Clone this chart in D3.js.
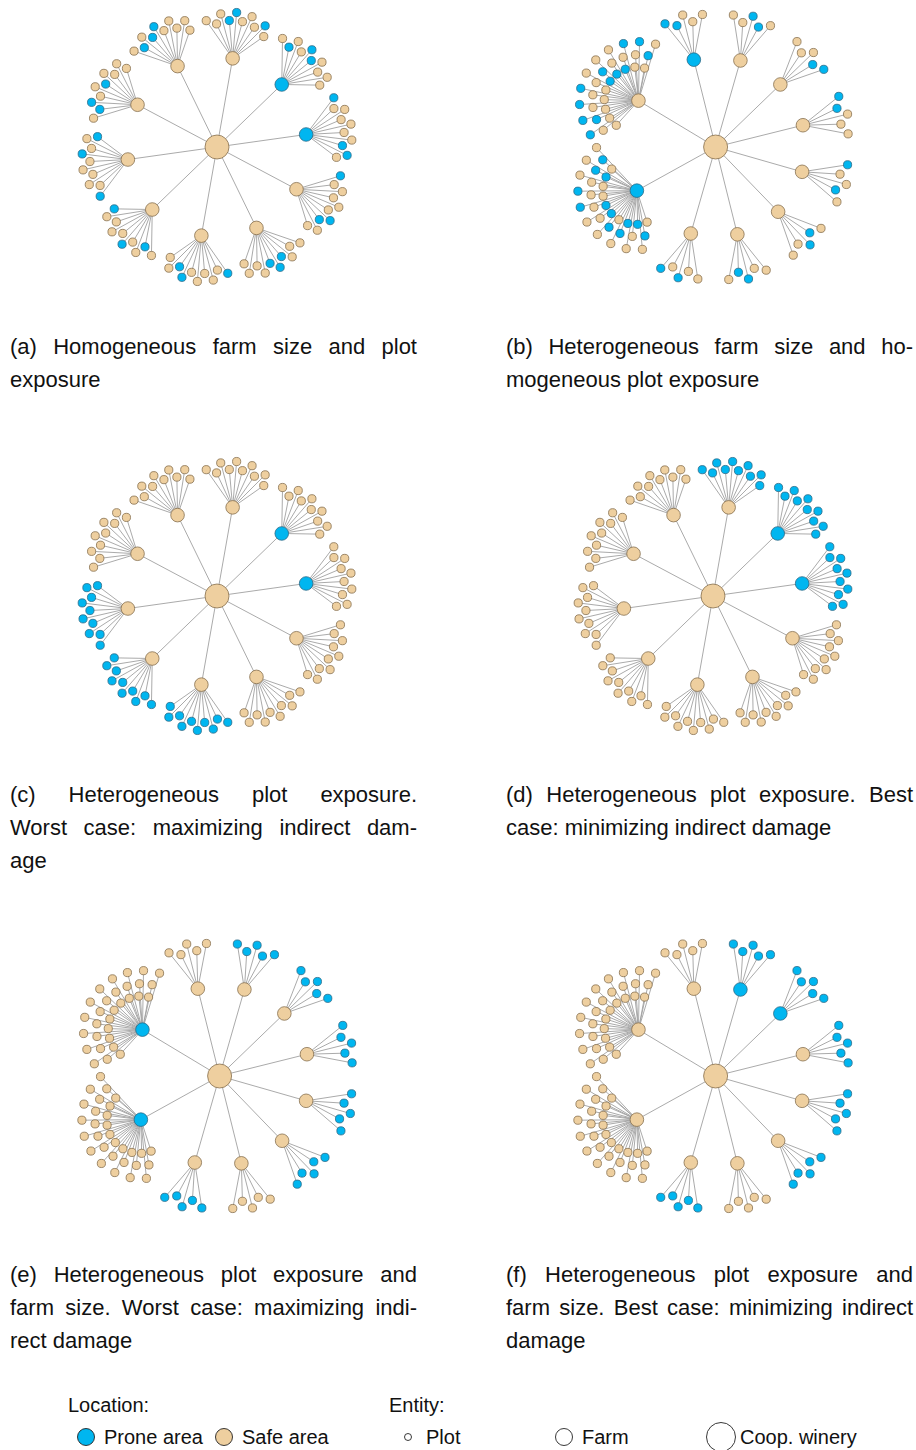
<!DOCTYPE html>
<html><head><meta charset="utf-8">
<script src="https://cdn.jsdelivr.net/npm/d3@7"></script>
<style>
body{margin:0;background:#fff}
svg{display:block}
text{font-family:"Liberation Sans",Arial,Helvetica,sans-serif;fill:#111}
</style>
</head><body>
<svg id="chart" width="916" height="1450"></svg>
<script>
// ---------------- data ----------------
const panelLabels = ["a", "b", "c", "d", "e", "f"];

const captionA = ["(a) Homogeneous farm size and plot", "exposure"];
const captionB = ["(b) Heterogeneous farm size and ho-", "mogeneous plot exposure"];
const captionC = ["(c) Heterogeneous plot exposure.", "Worst case: maximizing indirect dam-", "age"];
const captionD = ["(d) Heterogeneous plot exposure. Best", "case: minimizing indirect damage"];
const captionE = ["(e) Heterogeneous plot exposure and", "farm size. Worst case: maximizing indi-", "rect damage"];
const captionF = ["(f) Heterogeneous plot exposure and", "farm size. Best case: minimizing indirect", "damage"];

// farms listed clockwise starting from the top; value = number of plots
const farmSizesHomog  = [10, 10, 10, 10, 10, 10, 10, 10, 10, 10];
const farmSizesHetero = [5, 5, 5, 5, 5, 5, 5, 5, 30, 30];

// farm location: 1 = prone area, 0 = safe area
const farmProneA = [0, 1, 1, 0, 0, 0, 0, 0, 0, 0];
const farmProneB = [1, 0, 0, 0, 0, 0, 0, 0, 1, 0];
const farmProneC = [0, 1, 1, 0, 0, 0, 0, 0, 0, 0];
const farmProneD = [0, 1, 1, 0, 0, 0, 0, 0, 0, 0];
const farmProneE = [0, 0, 0, 0, 0, 0, 0, 0, 1, 1];
const farmProneF = [0, 1, 1, 0, 0, 0, 0, 0, 0, 0];

// plot location per farm (clockwise inside each fan): 1 = prone, 0 = safe
const plotProneA = ["0001100010", "0100110000", "1000000110", "1000001100", "0001110000",
                    "1000001100", "0100100001", "1000001001", "0110010000", "0101100000"];
const plotProneB = ["11000", "00110", "00011", "11000", "10010", "01100", "00110", "00101",
                    "010100110010100101001000110010", "001011001001000110100101001010"];
const plotProneC = ["0000000000", "0000000000", "0000000000", "0000000000", "0000000000",
                    "1111111111", "1111111111", "1111111111", "0000000000", "0000000000"];
const plotProneD = ["1111111111", "1111111111", "1111111111", "0000000000", "0000000000",
                    "0000000000", "0000000000", "0000000000", "0000000000", "0000000000"];
const plotProneE = ["00000", "11111", "11111", "11111", "11111", "11111", "00000", "11111",
                    "000000000000000000000000000000", "000000000000000000000000000000"];
const plotProneF = ["00000", "11111", "11111", "11111", "11111", "11111", "00000", "11111",
                    "000000000000000000000000000000", "000000000000000000000000000000"];

const legendLocation = ["Prone area", "Safe area"];
const legendEntity = ["Plot", "Farm", "Coop. winery"];

// ---------------- assembly ----------------
const panels = [
  {label: "a", sizes: farmSizesHomog,  farmProne: farmProneA, plotProne: plotProneA, caption: captionA, start: -80},
  {label: "b", sizes: farmSizesHetero, farmProne: farmProneB, plotProne: plotProneB, caption: captionB, start: -104},
  {label: "c", sizes: farmSizesHomog,  farmProne: farmProneC, plotProne: plotProneC, caption: captionC, start: -80},
  {label: "d", sizes: farmSizesHomog,  farmProne: farmProneD, plotProne: plotProneD, caption: captionD, start: -80},
  {label: "e", sizes: farmSizesHetero, farmProne: farmProneE, plotProne: plotProneE, caption: captionE, start: -104},
  {label: "f", sizes: farmSizesHetero, farmProne: farmProneF, plotProne: plotProneF, caption: captionF, start: -104}
];

const svg = d3.select("#chart");
svg.append("rect").attr("width", 916).attr("height", 1450).attr("fill", "#fff");

const color = d3.scaleOrdinal().domain(["prone", "safe"]).range(["#00b6f0", "#eecf9f"]);
const stroke = d3.scaleOrdinal().domain(["prone", "safe"]).range(["#2c6a86", "#86704f"]);
const radius = d3.scaleOrdinal().domain(["coop", "farm", "plot"]).range([12, 6.8, 4.1]);

const colCenters = [217, 713];
const rowCenters = [147, 596, 1076];
const captionX = [10, 506];
const captionW = 407;
const captionY = [354, 802, 1282];
const captionSize = 22;
const lineGap = 33;

// ---------------- radial fan layout, relaxed by a d3 force simulation ----------------
function buildNetwork(p) {
  const R = 90;
  const nodes = [{type: "coop", loc: "safe", x: 0, y: 0, fx: 0, fy: 0}];
  const links = [];
  const weights = p.sizes.map(n => n + 20);
  const total = d3.sum(weights);
  let ang = p.start * Math.PI / 180;
  p.sizes.forEach((n, i) => {
    if (i > 0) ang += (weights[i - 1] / 2 + weights[i] / 2) / total * 2 * Math.PI;
    const fxp = R * Math.cos(ang), fyp = R * Math.sin(ang);
    const farm = {type: "farm", loc: p.farmProne[i] ? "prone" : "safe", x: fxp, y: fyp, fx: fxp, fy: fyp};
    nodes.push(farm);
    links.push({source: nodes[0], target: farm});
    const rows = n >= 30 ? 3 : 1;
    const perRow = Math.ceil(n / rows);
    const spread = (n >= 30 ? 158 : n >= 10 ? 100 : 62) * Math.PI / 180;
    for (let j = 0; j < n; j++) {
      const r = j % rows, k = Math.floor(j / rows);
      const stagger = rows > 1 ? (r - 1) * 0.3 : 0;
      const a = ang - spread / 2 + spread * (k + 0.5 + stagger) / perRow;
      const d = rows > 1 ? 33 + r * 13 : (j % 2 ? 38 : 46);
      const tx = fxp + d * Math.cos(a), ty = fyp + d * Math.sin(a);
      const plot = {type: "plot", loc: p.plotProne[i][j] === "1" ? "prone" : "safe",
                    x: tx, y: ty, tx, ty};
      nodes.push(plot);
      links.push({source: farm, target: plot});
    }
  });
  const sim = d3.forceSimulation(nodes)
    .force("x", d3.forceX(d => d.tx ?? d.x).strength(0.25))
    .force("y", d3.forceY(d => d.ty ?? d.y).strength(0.25))
    .force("collide", d3.forceCollide(d => radius(d.type) + 0.8).strength(0.8))
    .stop();
  for (let k = 0; k < 150; k++) sim.tick();
  return {nodes, links};
}

function measure(str, size) {
  const t = svg.append("text").attr("font-size", size).text(str);
  const w = t.node().getComputedTextLength();
  t.remove();
  return w;
}

function drawCaption(lines, x0, width, y0) {
  const spaceW = measure("a a", captionSize) - measure("aa", captionSize);
  lines.forEach((line, li) => {
    const words = line.split(/\s+/);
    const widths = words.map(w => measure(w, captionSize));
    const last = li === lines.length - 1;
    let gap = spaceW;
    if (!last && words.length > 1) gap = Math.max(spaceW, (width - d3.sum(widths)) / (words.length - 1));
    const t = svg.append("text").attr("y", y0 + li * lineGap).attr("font-size", captionSize);
    let xx = x0;
    words.forEach((w, i) => { t.append("tspan").attr("x", xx).text(w); xx += widths[i] + gap; });
  });
}

// ---------------- draw panels ----------------
panels.forEach((p, idx) => {
  const col = idx % 2, row = Math.floor(idx / 2);
  const net = buildNetwork(p);
  const xs = net.nodes.map(d => d.x), ys = net.nodes.map(d => d.y);
  const bx = (d3.min(xs) + d3.max(xs)) / 2, by = (d3.min(ys) + d3.max(ys)) / 2;
  const x = d3.scaleLinear().domain([0, 1]).range([colCenters[col] - bx, colCenters[col] - bx + 1]);
  const y = d3.scaleLinear().domain([0, 1]).range([rowCenters[row] - by, rowCenters[row] - by + 1]);
  const g = svg.append("g").attr("class", "panel-" + p.label);
  g.append("g").selectAll("line").data(net.links).join("line")
    .attr("x1", d => x(d.source.x)).attr("y1", d => y(d.source.y))
    .attr("x2", d => x(d.target.x)).attr("y2", d => y(d.target.y))
    .attr("stroke", "#a0a0a0").attr("stroke-width", 0.9);
  g.append("g").selectAll("circle").data(net.nodes).join("circle")
    .attr("cx", d => x(d.x)).attr("cy", d => y(d.y))
    .attr("r", d => radius(d.type))
    .attr("fill", d => color(d.loc)).attr("stroke", d => stroke(d.loc)).attr("stroke-width", 0.8);
  drawCaption(p.caption, captionX[col], captionW, captionY[row]);
});

// ---------------- legend ----------------
const lg = svg.append("g").attr("class", "legend");
lg.append("text").attr("x", 68).attr("y", 1412).attr("font-size", 20).text("Location:");
lg.append("text").attr("x", 389).attr("y", 1412).attr("font-size", 20).text("Entity:");
const locX = [86, 224];
legendLocation.forEach((name, i) => {
  const key = i === 0 ? "prone" : "safe";
  lg.append("circle").attr("cx", locX[i]).attr("cy", 1437).attr("r", 8.5)
    .attr("fill", color(key)).attr("stroke", "#222").attr("stroke-width", 0.9);
  lg.append("text").attr("x", locX[i] + 18).attr("y", 1444).attr("font-size", 20).text(name);
});
const entX = [408, 564, 721];
const entR = [3.5, 8.5, 14.5];
legendEntity.forEach((name, i) => {
  lg.append("circle").attr("cx", entX[i]).attr("cy", 1437).attr("r", entR[i])
    .attr("fill", "none").attr("stroke", "#222").attr("stroke-width", 0.9);
  lg.append("text").attr("x", entX[i] + (i === 2 ? 19 : 18)).attr("y", 1444).attr("font-size", 20).text(name);
});
</script>
</body></html>
